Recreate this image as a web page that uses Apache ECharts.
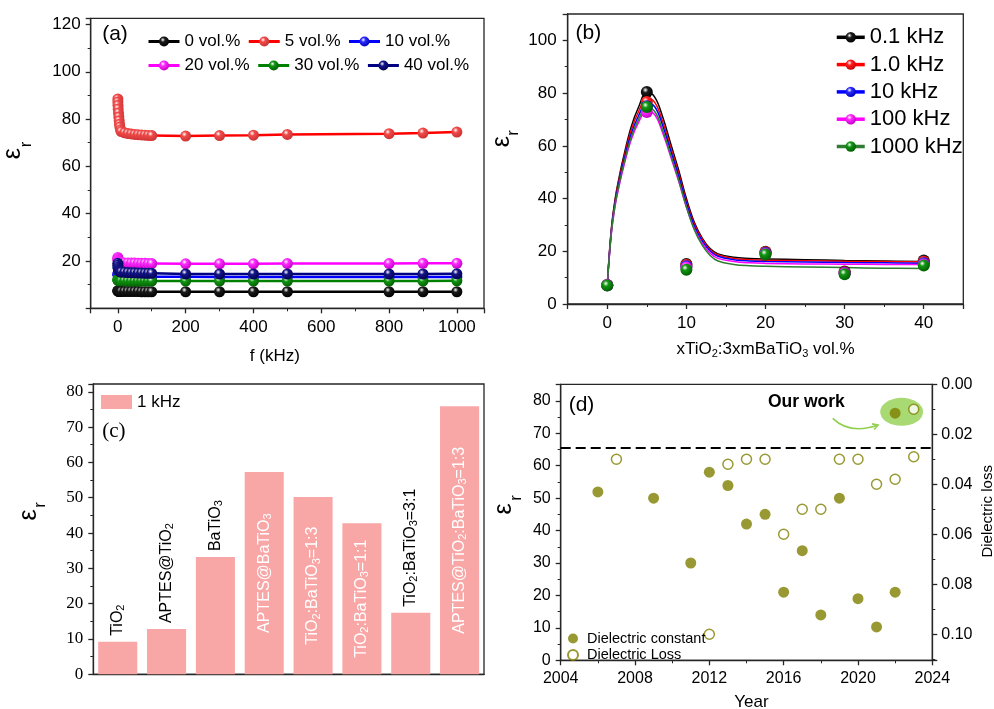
<!DOCTYPE html>
<html><head><meta charset="utf-8">
<script src="https://cdn.jsdelivr.net/npm/echarts@6/dist/echarts.min.js"></script>
<style>html,body{margin:0;padding:0;background:#fff}#c{width:994px;height:709px}</style>
</head><body><div id="c"></div>
<script>
// ---------- Panel (a) data ----------
const freqA = [0.1,0.2,0.5,1,2,3,4,5,6,8,10,20,30,40,50,60,70,80,90,100,200,300,400,500,800,900,1000];
const namesA = ['0 vol.%','5 vol.%','10 vol.%','20 vol.%','30 vol.%','40 vol.%'];
const epsA0  = [7.4,7.4,7.3,7.3,7.3,7.2,7.2,7.2,7.2,7.2,7.1,7.1,7.1,7.1,7.1,7.1,7.0,7.0,7.0,7.0,7.0,7.0,7.0,7.0,7.0,7.0,7.0];
const epsA5  = [88.5,87.2,85.8,84.3,82.6,80.9,79.3,77.8,76.6,75.4,74.7,74.2,73.9,73.7,73.5,73.4,73.3,73.2,73.1,73.0,72.8,73.0,73.2,73.5,73.8,74.1,74.5];
const epsA10 = [14.6,14.4,14.2,14.0,13.9,13.8,13.8,13.7,13.7,13.6,13.6,13.5,13.5,13.5,13.4,13.4,13.4,13.4,13.3,13.3,13.3,13.2,13.2,13.2,13.2,13.2,13.2];
const epsA20 = [21.5,21.0,20.6,20.3,20.0,19.8,19.7,19.6,19.5,19.4,19.3,19.2,19.2,19.1,19.1,19.0,19.0,19.0,18.9,18.9,18.8,18.8,18.8,18.9,18.9,19.0,19.0];
const epsA30 = [12.2,12.0,11.9,11.8,11.8,11.7,11.7,11.7,11.6,11.6,11.6,11.6,11.5,11.5,11.5,11.5,11.5,11.5,11.5,11.5,11.5,11.5,11.5,11.5,11.5,11.5,11.6];
const epsA40 = [19.0,18.2,17.4,16.8,16.3,16.0,15.8,15.6,15.5,15.4,15.3,15.2,15.1,15.0,15.0,14.9,14.9,14.8,14.8,14.8,14.5,14.5,14.5,14.5,14.5,14.5,14.6];

// ---------- Panel (b) data ----------
const volB = [0,5,10,20,30,40];
const namesB = ['0.1 kHz','1.0 kHz','10 kHz','100 kHz','1000 kHz'];
const ptsB01   = [7.2,80.4,15.2,19.8,12.3,16.5];
const ptsB1    = [7.2,76.6,14.8,19.6,12.0,16.0];
const ptsB10   = [7.1,75.0,14.3,19.3,11.8,15.5];
const ptsB100  = [7.1,72.8,13.8,19.0,11.6,15.0];
const ptsB1000 = [7.0,74.7,13.0,18.8,11.3,14.6];
const fitX = [0,0.5,1,1.5,2,3,4,5,6,7,8,9,10,11,12,13,14,16,18,20,25,30,35,40];
const fitB01   = [7,28,40,48,55,67,75,80.3,78.5,71,61,51,40,31,25,21,19,17.7,17.3,17.1,16.8,16.5,16.3,16.1];
const fitB1    = [7,27.5,39.3,47.2,54,65.7,73.3,78,76.5,69.2,59.5,49.8,39,30.3,24.5,20.6,18.6,17.3,16.8,16.6,16.4,16.2,16.1,16];
const fitB10   = [7,27,38.6,46.3,53,64.3,71.7,76.2,74.8,67.7,58.2,48.7,38.2,29.6,23.9,20.1,18.1,16.8,16.3,16.1,15.9,15.7,15.6,15.5];
const fitB100  = [7,26.2,37.3,44.7,51.2,62.1,69.2,73.2,71.8,65,56,46.8,36.8,28.5,23,19.3,17.3,16.1,15.6,15.4,15.2,15.1,15,15];
const fitB1000 = [7,26.6,37.9,45.4,52,63.1,70.3,74.5,73,66,56.7,47.3,36.9,28.2,22.3,18.4,16.3,15,14.5,14.3,14,13.8,13.6,13.5];

// ---------- Panel (c) data ----------
const catsC = ['TiO2','APTES@TiO2','BaTiO3','APTES@BaTiO3','TiO2:BaTiO3=1:3','TiO2:BaTiO3=1:1','TiO2:BaTiO3=3:1','APTES@TiO2:BaTiO3=1:3'];
const epsC = [9.2,12.8,33.2,57.3,50.2,42.8,17.4,75.9];

// ---------- Panel (d) data ----------
const yearConst = [2006,2009,2011,2012,2013,2014,2015,2016,2017,2018,2019,2020,2021,2022];
const epsConst  = [51.9,50,30,58,53.9,42,45,21,33.8,14,50,19,10.3,21];
const yearLoss  = [2007,2012,2013,2014,2015,2016,2017,2018,2019,2020,2021,2022,2023];
const lossVals  = [0.030,0.100,0.032,0.030,0.030,0.060,0.050,0.050,0.030,0.030,0.040,0.038,0.029];
const oursConst = [2022, 76.2];
const oursLoss  = [2023, 0.010];
const oursHighlight = [2022.35, 76.6];
const dashedLevel = 65.4;

// ---------- helpers ----------
const FS = 'Liberation Sans, Arial, sans-serif';
const SERIF = 'Liberation Serif, Times New Roman, serif';
const AX = '#262626';
const zip = (xs, ys) => xs.map((x, i) => [x, ys[i]]);
const ball = (c, d) => ({type:'radial', x:0.38, y:0.33, r:0.72,
  colorStops:[{offset:0,color:'#ffffff'},{offset:0.32,color:c},{offset:1,color:d}]});
const subFmt = s => s.replace(/O(\d)/g, 'O{s|$1}');
const plain = v => String(v);

function valAxis(extra, label) {
  return Object.assign({
    type:'value',
    axisLine:{show:true, onZero:false, lineStyle:{color:AX, width:1.3}},
    axisTick:{show:true, length:5, lineStyle:{color:AX, width:1.3}},
    minorTick:{show:true, splitNumber:2, length:3, lineStyle:{color:AX, width:1}},
    splitLine:{show:false}, minorSplitLine:{show:false},
    axisLabel:Object.assign({color:'#000', fontFamily:FS, fontSize:17, margin:10, formatter:plain}, label || {})
  }, extra);
}
const gridBase = {show:true, borderColor:AX, borderWidth:1.3, containLabel:false, outerBoundsMode:'none'};

// ---------- series ----------
const colA  = ['#000000','#FF0000','#0000FF','#FF00FF','#008000','#000080'];
const ballA = [ball('#1a1a1a','#000'), ball('#F04A4A','#C83030'), ball('#2a2aff','#0000b0'),
               ball('#ff2aff','#c000c0'), ball('#129612','#005a00'), ball('#141488','#000050')];
const dataA = [epsA0, epsA5, epsA10, epsA20, epsA30, epsA40];
const series = [];
dataA.forEach((ys, i) => {
  series.push({type:'line', name:namesA[i], xAxisIndex:0, yAxisIndex:0, data:zip(freqA, ys),
    symbol:'circle', symbolSize:11, lineStyle:{color:colA[i], width:2.5},
    itemStyle:{color:ballA[i]}, z:2+i});
});

const colB = ['#000000','#FF0000','#0000FF','#FF00FF','#2E7D32'];
const ballB = [ball('#1a1a1a','#000'), ball('#ff2020','#c00000'), ball('#2a2aff','#0000b0'),
               ball('#ff2aff','#c000c0'), ball('#129612','#005a00')];
const fitsB = [fitB01, fitB1, fitB10, fitB100, fitB1000];
const ptsB = [ptsB01, ptsB1, ptsB10, ptsB100, ptsB1000];
fitsB.forEach((ys, i) => {
  series.push({type:'line', name:'fit '+namesB[i], xAxisIndex:1, yAxisIndex:1, data:zip(fitX, ys),
    smooth:0.4, symbol:'none', showSymbol:false, lineStyle:{color:colB[i], width:1.5}, z:2});
});
ptsB.forEach((ys, i) => {
  series.push({type:'line', name:namesB[i], xAxisIndex:1, yAxisIndex:1, data:zip(volB, ys),
    symbol:'circle', symbolSize:12, lineStyle:{color:colB[i], width:0},
    itemStyle:{color:ballB[i]}, z:5+i});
});

series.push({type:'bar', name:'1 kHz', xAxisIndex:2, yAxisIndex:2, barCategoryGap:'20%',
  itemStyle:{color:'#F9A6A6'},
  data: epsC.map((v, i) => {
    const inside = v > 40;
    return {value:v, label: inside ?
      {position:'inside', align:'center', verticalAlign:'middle', color:'#fff'} :
      {position:'top', align:'left', verticalAlign:'middle', color:'#000', distance:6}};
  }),
  label:{show:true, rotate:90, fontFamily:FS, fontSize:16, lineHeight:18,
    formatter: p => subFmt(catsC[p.dataIndex]),
    rich:{s:{fontSize:11, fontFamily:FS, lineHeight:9, verticalAlign:'bottom'}}}
});

series.push({type:'scatter', name:'highlight', xAxisIndex:3, yAxisIndex:3, data:[oursHighlight],
  symbol:'circle', symbolSize:[43,28], itemStyle:{color:'#92D050'}, silent:true, z:1});
series.push({type:'scatter', name:'Dielectric constant', xAxisIndex:3, yAxisIndex:3,
  data: zip(yearConst, epsConst).concat([oursConst]),
  symbol:'circle', symbolSize:11, itemStyle:{color:'#808000'}, z:3,
  markLine:{silent:true, symbol:['none','none'], label:{show:false},
    lineStyle:{type:[10,5], color:'#000', width:2.2}, data:[{yAxis:dashedLevel}]}});
series.push({type:'scatter', name:'Dielectric Loss', xAxisIndex:3, yAxisIndex:4,
  data: zip(yearLoss, lossVals).concat([oursLoss]),
  symbol:'circle', symbolSize:10, itemStyle:{color:'#ffffff', borderColor:'#808000', borderWidth:1.5}, z:3});

// ---------- graphic annotations ----------
function epsLabel(x, y, rx, ry) {
  return [
    {type:'text', x:x, y:y, rotation:Math.PI/2, style:{text:'ε', fontSize:25, fontFamily:FS, fill:'#000',
      align:'center', verticalAlign:'middle', textAlign:'center', textVerticalAlign:'middle'}},
    {type:'text', x:rx, y:ry, rotation:Math.PI/2, style:{text:'r', fontSize:17, fontFamily:FS, fill:'#000',
      align:'center', verticalAlign:'middle', textAlign:'center', textVerticalAlign:'middle'}}
  ];
}
function panelLabel(t, x, y, fam) {
  return {type:'text', x:x, y:y, style:{text:t, fontSize:21, fontFamily:fam, fill:'#000',
    align:'center', verticalAlign:'middle', textAlign:'center', textVerticalAlign:'middle'}};
}
const graphic = [].concat(
  epsLabel(13.5, 153.7, 26.5, 144.5),
  epsLabel(502.5, 141.7, 513, 133),
  epsLabel(29, 515, 40.5, 505),
  epsLabel(504, 509, 516, 498),
  [panelLabel('(a)', 115, 34, FS), panelLabel('(b)', 588.3, 33.3, FS),
   panelLabel('(c)', 113.8, 431, SERIF), panelLabel('(d)', 581.5, 405.7, FS),
   {type:'text', x:768, y:402, style:{text:'Our work', fontSize:17.5, fontWeight:'bold', fontFamily:FS, fill:'#000',
     align:'left', verticalAlign:'middle', textAlign:'left', textVerticalAlign:'middle'}},
   {type:'bezierCurve', shape:{x1:832.7, y1:418.3, x2:878, y2:425, cpx1:850, cpy1:435},
     style:{stroke:'#92D050', lineWidth:1.6, fill:'none'}},
   {type:'polyline', shape:{points:[[872.1,423.9],[878,425],[874.1,429.6]]},
     style:{stroke:'#92D050', lineWidth:1.6, fill:'none'}}]
);

const legendText = (fs) => ({color:'#000', fontFamily:FS, fontSize:fs});
const option = {
  animation:false,
  textStyle:{fontFamily:FS},
  grid:[
    Object.assign({left:90.7, top:18.3, width:393.3, height:290}, gridBase),
    Object.assign({left:567.7, top:14, width:395.6, height:290}, gridBase),
    Object.assign({left:93.3, top:384, width:390.7, height:290.3}, gridBase),
    Object.assign({left:560.7, top:384.3, width:371.6, height:276}, gridBase)
  ],
  legend:[
    {data:namesA.slice(0,3), left:142, top:28, itemWidth:31, itemHeight:12.5, itemGap:7, selectedMode:false,
      textStyle:legendText(17), lineStyle:{width:3}},
    {data:namesA.slice(3), left:142, top:52, itemWidth:31, itemHeight:12.5, itemGap:7, selectedMode:false,
      textStyle:legendText(17), lineStyle:{width:3}},
    {data:namesB, orient:'vertical', left:830, top:21.3, itemWidth:28, itemHeight:13, itemGap:5.3, selectedMode:false,
      textStyle:legendText(22), lineStyle:{width:3.5}},
    {data:['1 kHz'], left:96, top:388.5, itemWidth:31, itemHeight:14, icon:'rect', selectedMode:false,
      textStyle:legendText(17)},
    {data:['Dielectric constant','Dielectric Loss'], orient:'vertical', left:562, top:626, itemWidth:10, itemHeight:10,
      itemGap:1.5, selectedMode:false, textStyle:Object.assign(legendText(14.5), {padding:[0,0,0,4]})}
  ],
  xAxis:[
    valAxis({gridIndex:0, min:-80, max:1080, splitNumber:5, name:'f (kHz)', nameLocation:'middle', nameGap:40,
      nameTextStyle:{color:'#000', fontFamily:FS, fontSize:17, padding:[0,25,0,0]}},
      {showMinLabel:false, showMaxLabel:false, margin:11}),
    valAxis({gridIndex:1, min:-5, max:45, splitNumber:5, name:'xTiO{s|2}:3xmBaTiO{s|3} vol.%', nameLocation:'middle', nameGap:35,
      nameTextStyle:{color:'#000', fontFamily:FS, fontSize:17, lineHeight:20,
        rich:{s:{fontSize:11, fontFamily:FS, lineHeight:10, verticalAlign:'bottom'}}}},
      {showMinLabel:false, showMaxLabel:false, margin:11}),
    {type:'category', gridIndex:2, data:catsC, axisTick:{show:false}, axisLabel:{show:false},
      axisLine:{show:true, lineStyle:{color:AX, width:1.3}}},
    valAxis({gridIndex:3, min:2004, max:2024, interval:4, name:'Year', nameLocation:'middle', nameGap:34,
      nameTextStyle:{color:'#000', fontFamily:FS, fontSize:17, padding:[0,0,0,10]}},
      {fontSize:16, margin:10})
  ],
  yAxis:[
    valAxis({gridIndex:0, min:0, max:122.6, interval:20}, {showMinLabel:false, showMaxLabel:false}),
    valAxis({gridIndex:1, min:0, max:110, interval:20}, {showMaxLabel:false, margin:11}),
    valAxis({gridIndex:2, min:0, max:82.2, interval:10}, {showMaxLabel:false, fontFamily:SERIF, fontSize:17}),
    valAxis({gridIndex:3, min:0, max:85.1, interval:10}, {showMaxLabel:false, fontSize:16, margin:10}),
    valAxis({gridIndex:3, position:'right', min:0, max:0.1104, interval:0.02, inverse:true,
      name:'Dielectric loss', nameLocation:'middle', nameGap:48,
      nameTextStyle:{color:'#000', fontFamily:FS, fontSize:15, padding:[0,0,0,22]}},
      {showMaxLabel:false, fontSize:16, margin:9, formatter:v => v.toFixed(2)})
  ],
  series:series,
  graphic:graphic
};
const chart = echarts.init(document.getElementById('c'), null, {renderer:'canvas'});
chart.setOption(option);
</script></body></html>
